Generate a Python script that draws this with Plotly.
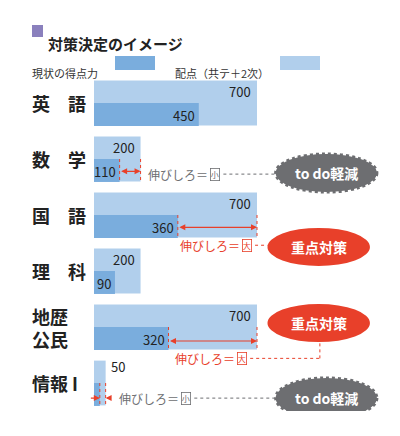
import plotly.graph_objects as go

subjects = ['英　語', '数　学', '国　語', '理　科', '地歴<br>公民', '情報 I']
current = [450, 110, 360, 90, 320, 25]
full = [700, 200, 700, 200, 700, 50]
rows = list(range(len(subjects)))

DARK = '#7aaddd'
LIGHT = '#b1cfec'
RED = '#e8402a'
GRAY = '#6d6e71'
FONT = 'Noto Sans CJK JP'


def py(p):
    # pixel row -> paper y (plot area spans pixel 67..403)
    return (403 - p) / 336


fig = go.Figure()
fig.add_trace(go.Bar(y=rows, x=full, orientation='h', marker_color=LIGHT,
                     width=0.8, offset=-0.4, marker_line_width=0, hoverinfo='skip'))
fig.add_trace(go.Bar(y=rows, x=current, orientation='h', marker_color=DARK,
                     width=0.41, offset=0, marker_line_width=0, hoverinfo='skip'))

ann = []
shapes = []
# category labels
for r, s in zip(rows, subjects):
    ann.append(dict(x=-64 / 314, xref='paper', y=r, yref='y', text='<b>' + s + '</b>',
                    showarrow=False, xanchor='left', font=dict(size=18, color='#222'),
                    align='left'))
# value labels
for r, f, c in zip(rows, full, current):
    if f >= 100:
        ann.append(dict(x=f, y=r - 0.2, text=str(f), showarrow=False, xanchor='right',
                        xshift=-4, font=dict(size=13, color='#222')))
    else:
        ann.append(dict(x=f, y=r - 0.3, text=str(f), showarrow=False, xanchor='left',
                        xshift=3, font=dict(size=13, color='#222')))
    if c >= 100:
        ann.append(dict(x=c, y=r + 0.22, text=str(c), showarrow=False, xanchor='right',
                        xshift=-2, font=dict(size=13, color='#222')))
    elif c >= 50:
        ann.append(dict(x=0, y=r + 0.22, text=str(c), showarrow=False, xanchor='left',
                        xshift=1, font=dict(size=13, color='#222')))
    else:
        ann.append(dict(x=0, y=r + 0.68, text=str(c), showarrow=False, xanchor='left',
                        xshift=-2, font=dict(size=13, color='#222')))


def gap(r, c, f, yarrow, inward=False):
    for xv in (c, f):
        shapes.append(dict(type='line', x0=xv, x1=xv, y0=r, y1=r + 0.42,
                           line=dict(color=RED, width=1, dash='dot')))
    if inward:
        ann.append(dict(x=c, y=yarrow, ax=c - 45, ay=yarrow, axref='x', ayref='y',
                        showarrow=True, arrowhead=2, arrowcolor=RED, arrowwidth=1.2, text=''))
        ann.append(dict(x=f, y=yarrow, ax=f + 25, ay=yarrow, axref='x', ayref='y',
                        showarrow=True, arrowhead=2, arrowcolor=RED, arrowwidth=1.2, text=''))
    else:
        ann.append(dict(x=f, y=yarrow, ax=c, ay=yarrow, axref='x', ayref='y', showarrow=True,
                        arrowhead=2, startarrowhead=2, arrowside='end+start',
                        arrowcolor=RED, arrowwidth=1.2, text=''))


def note(x, y, size, color, xend):
    ann.append(dict(x=x, y=y, text='伸びしろ＝', showarrow=False, xanchor='left',
                    font=dict(size=12, color=color)))
    ann.append(dict(x=x + 64 * 700 / 163, y=y, text=size, showarrow=False, xanchor='left',
                    font=dict(size=8, color=color), bordercolor=color, borderwidth=0.8,
                    borderpad=0))
    shapes.append(dict(type='line', x0=x + 77 * 700 / 163, x1=xend, y0=y, y1=y,
                       line=dict(color=color, width=1, dash='dot')))


def badge(x0, x1, yc, hh, text, color, spiky):
    shapes.append(dict(type='circle', x0=x0, x1=x1, y0=yc - hh, y1=yc + hh,
                       fillcolor=color, line=dict(color=color, width=3 if spiky else 0,
                                                  dash='dot' if spiky else 'solid'),
                       layer='above'))
    ann.append(dict(x=(x0 + x1) / 2, y=yc, text='<b>' + text + '</b>', showarrow=False,
                    font=dict(size=14, color='white')))


# 数学
gap(1, 110, 200, 1.22)
note(225, 1.27, '小', GRAY, 780)
badge(780, 1215, 1.25, 0.34, 'to do軽減', GRAY, True)
# 国語
gap(2, 360, 700, 2.22)
note(361, 2.54, '大', RED, 745)
badge(745, 1185, 2.57, 0.34, '重点対策', RED, False)
# 地歴公民
gap(4, 320, 700, 4.25)
note(340, 4.56, '大', RED, 970)
shapes.append(dict(type='line', x0=970, x1=970, y0=4.56, y1=4.27,
                   line=dict(color=RED, width=1, dash='dot')))
badge(745, 1185, 3.93, 0.34, '重点対策', RED, False)
# 情報
gap(5, 25, 50, 5.27, inward=True)
note(100, 5.27, '小', GRAY, 780)
badge(780, 1215, 5.27, 0.36, 'to do軽減', GRAY, True)

# title and legend
shapes.append(dict(type='rect', xref='paper', yref='paper', x0=-62 / 314, x1=-51 / 314,
                   y0=py(29), y1=py(17), fillcolor='#8a80bd', line_width=0))
ann.append(dict(x=-48 / 314, xref='paper', y=py(23), yref='paper',
                text='<b>対策決定のイメージ</b>', showarrow=False, xanchor='left',
                font=dict(size=15, color='#222')))
ann.append(dict(x=-64 / 314, xref='paper', y=py(55), yref='paper',
                text='現状の得点力', showarrow=False, xanchor='left',
                font=dict(size=11, color='#333')))
shapes.append(dict(type='rect', xref='paper', yref='paper', x0=21 / 314, x1=61 / 314,
                   y0=py(62), y1=py(48), fillcolor=DARK, line_width=0))
ann.append(dict(x=79 / 314, xref='paper', y=py(55), yref='paper',
                text='配点（共テ＋2次）', showarrow=False, xanchor='left',
                font=dict(size=11, color='#333')))
shapes.append(dict(type='rect', xref='paper', yref='paper', x0=186 / 314, x1=226 / 314,
                   y0=py(62), y1=py(48), fillcolor=LIGHT, line_width=0))

fig.update_layout(
    width=400, height=436, barmode='overlay', showlegend=False,
    paper_bgcolor='white', plot_bgcolor='white',
    margin=dict(l=86, r=0, t=67, b=33),
    font=dict(family=FONT),
    xaxis=dict(range=[0, 700 * 314 / 163], visible=False),
    yaxis=dict(range=[5.5, -0.5], visible=False),
    annotations=ann, shapes=shapes,
)

fig.write_html('out.html')
